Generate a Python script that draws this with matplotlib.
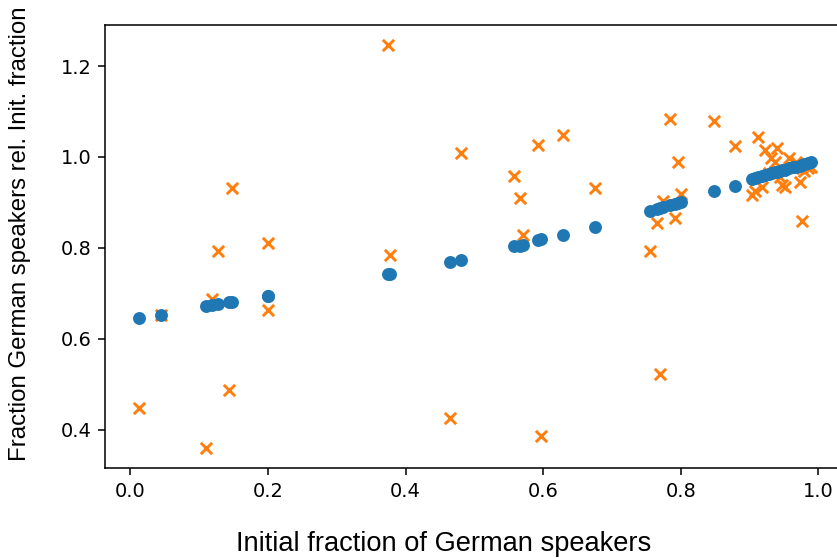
import numpy as np
import matplotlib
matplotlib.use("Agg")
import matplotlib.pyplot as plt

# initial fraction of German speakers (shared x for both series)
init_frac = [0.012, 0.045,
             0.110, 0.118, 0.128, 0.144, 0.148,
             0.200, 0.200,
             0.375, 0.378,
             0.464, 0.481,
             0.557, 0.566, 0.571, 0.593, 0.597, 0.629, 0.676,
             0.755, 0.766, 0.770, 0.774, 0.785, 0.792, 0.796, 0.800,
             0.849, 0.879,
             0.903, 0.908, 0.913, 0.918, 0.922, 0.928, 0.932, 0.937, 0.940, 0.945,
             0.948, 0.952, 0.958, 0.963, 0.968, 0.973, 0.976, 0.980, 0.985, 0.990]

# model prediction (blue dots)
model_rel = [0.645, 0.653,
             0.673, 0.675, 0.677, 0.680, 0.681,
             0.694, 0.694,
             0.742, 0.743,
             0.768, 0.774,
             0.804, 0.805, 0.806, 0.817, 0.819, 0.829, 0.846,
             0.881, 0.886, 0.887, 0.889, 0.894, 0.897, 0.899, 0.901,
             0.925, 0.936,
             0.952, 0.954, 0.956, 0.958, 0.960, 0.962, 0.964, 0.966, 0.967, 0.969,
             0.971, 0.972, 0.975, 0.977, 0.979, 0.981, 0.982, 0.984, 0.987, 0.990]

# observed data (orange crosses)
observed_rel = [0.447, 0.653,
                0.360, 0.688, 0.793, 0.488, 0.932,
                0.811, 0.664,
                1.246, 0.785,
                0.426, 1.009,
                0.958, 0.910, 0.829, 1.026, 0.387, 1.048, 0.932,
                0.793, 0.855, 0.523, 0.903, 1.084, 0.866, 0.989, 0.919,
                1.079, 1.024,
                0.916, 0.925, 1.044, 0.934, 1.015, 0.965, 0.998, 0.990, 1.020, 0.955,
                0.938, 0.935, 0.998, 0.975, 0.990, 0.945, 0.859, 0.970, 0.976, 0.978]

fig = plt.figure(figsize=(6, 4), dpi=139.5)
# axes run past the right edge, as in the cropped original
ax = fig.add_axes([105 / 837, 90 / 558, 740 / 837, 443 / 558])

ax.scatter(init_frac, observed_rel, marker='x', color='C1', s=34)
ax.scatter(init_frac, model_rel, color='C0', s=32)

ax.set_xticks([0.0, 0.2, 0.4, 0.6, 0.8, 1.0])
ax.set_yticks([0.4, 0.6, 0.8, 1.0, 1.2])

ax.set_xlabel('Initial fraction of German speakers',
              fontfamily='Liberation Sans', fontsize=14.1)
ax.xaxis.set_label_coords((444 - 105) / 740, -(544 - 468) / 443)
ax.xaxis.label.set_verticalalignment('center')

ax.set_ylabel('Fraction German speakers rel. Init. fraction',
              fontfamily='Liberation Sans', fontsize=12.4)
ax.yaxis.set_label_coords((20 - 105) / 740, (468 - 233.5) / 443)
ax.yaxis.label.set_verticalalignment('center')

fig.savefig('out.png', dpi=139.5)
